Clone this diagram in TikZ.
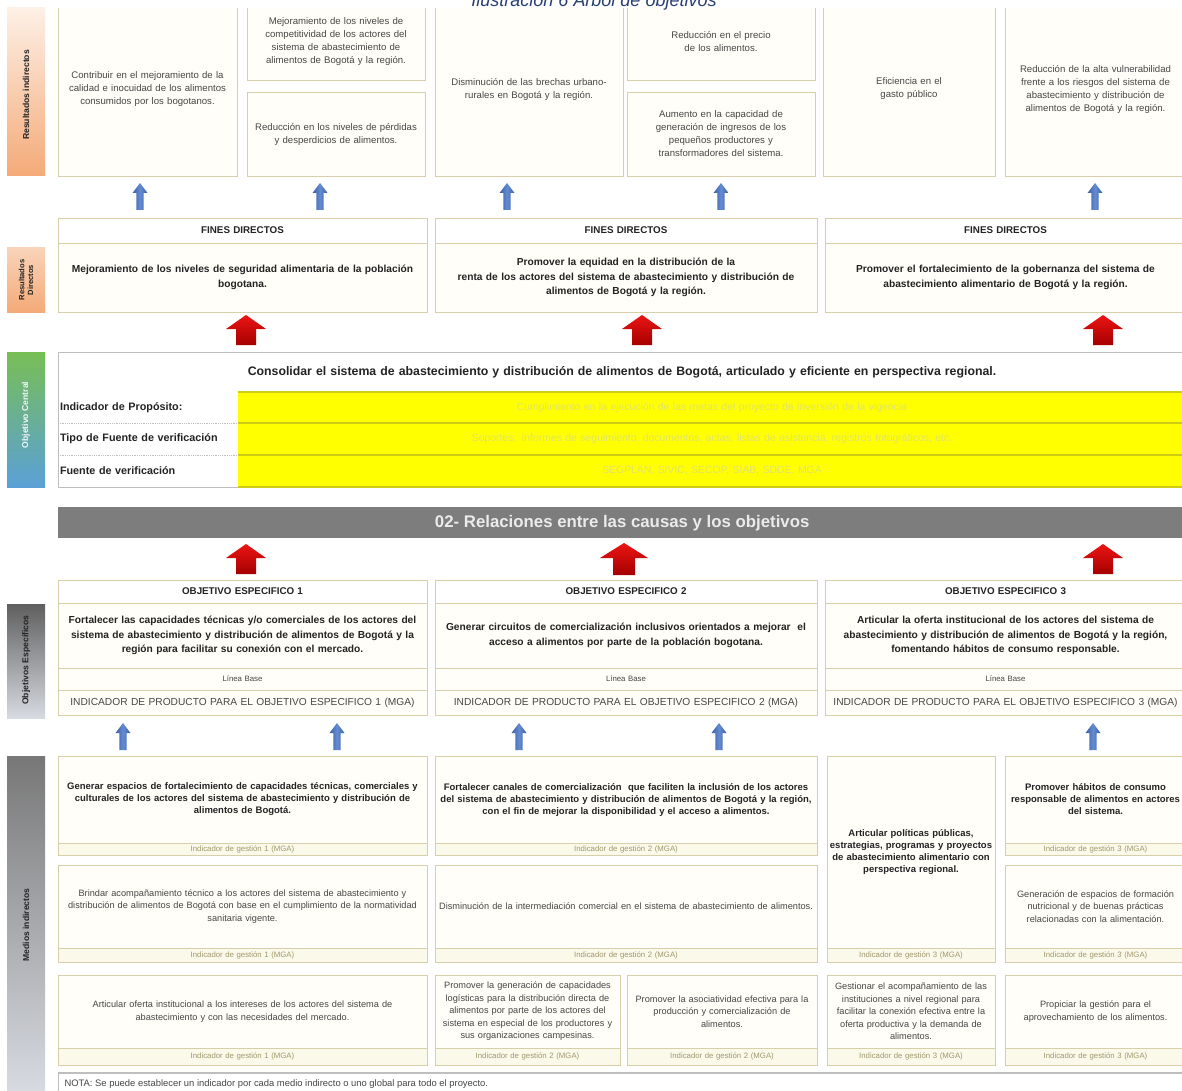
\documentclass[tikz,border=0pt]{standalone}
\usepackage{fontspec}
\setmainfont{Liberation Sans}
\definecolor{boxc}{RGB}{214,207,170}
\definecolor{boxf}{RGB}{255,254,248}
\definecolor{footf}{RGB}{251,249,234}
\definecolor{foott}{RGB}{160,152,110}
\definecolor{txt}{RGB}{70,70,70}
\definecolor{btxt}{RGB}{35,35,35}
\definecolor{arrblueD}{RGB}{60,95,165}
\definecolor{arrblueL}{RGB}{100,140,210}
\definecolor{arrredL}{RGB}{235,20,20}
\definecolor{arrredD}{RGB}{165,0,0}
\definecolor{bannerc}{RGB}{125,125,125}
\definecolor{titc}{RGB}{40,62,115}
\definecolor{yel}{RGB}{255,255,0}
\definecolor{yelline}{RGB}{205,205,20}
\definecolor{faint}{RGB}{226,226,105}
\definecolor{ocline}{RGB}{190,190,190}
\definecolor{orL}{RGB}{253,240,230}
\definecolor{orD}{RGB}{244,170,120}
\definecolor{grn}{RGB}{120,190,85}
\definecolor{blu}{RGB}{90,160,215}
\definecolor{gD}{RGB}{95,95,95}
\definecolor{gL}{RGB}{215,218,225}

\newcommand\mkcell[7]{%
  \pgfmathsetmacro\cellw{#4-#2}%
  \pgfmathsetmacro\cellh{#5-#3}%
  \pgfmathsetmacro\celltw{#4-#2-4}%
  \node[#6, minimum width=\cellw pt, minimum height=\cellh pt, text width=\celltw pt, anchor=north west, inner sep=0pt, outer sep=0pt] (#1) at (#2,#3) {#7};%
}

\tikzset{
  cellbox/.style={draw=boxc, fill=boxf, line width=0.8pt, align=center, text=txt, font=\fontsize{9.6}{13}\selectfont},
  medbox/.style={draw=boxc, fill=boxf, line width=0.8pt, align=center, text=txt, font=\fontsize{9.2}{12.5}\selectfont},
  boldmed/.style={draw=boxc, fill=boxf, line width=0.8pt, align=center, text=btxt, font=\bfseries\fontsize{9.5}{12}\selectfont},
  boldbody/.style={draw=boxc, fill=boxf, line width=0.8pt, align=center, text=btxt, font=\bfseries\fontsize{10.2}{14.5}\selectfont},
  headbox/.style={draw=boxc, fill=white, line width=0.8pt, align=center, text=btxt, font=\bfseries\fontsize{9.8}{11}\selectfont},
  plainbox/.style={draw=boxc, fill=boxf, line width=0.8pt, align=center, text=txt, font=\fontsize{7.8}{10}\selectfont},
  indbox/.style={draw=boxc, fill=boxf, line width=0.8pt, align=center, text=txt, font=\fontsize{10.2}{11}\selectfont},
  footbox/.style={draw=boxc, fill=footf, line width=0.8pt, align=center, text=foott, font=\fontsize{7.8}{9}\selectfont},
  lblcell/.style={draw=none, fill=white, align=left, text=btxt, font=\bfseries\fontsize{10.8}{12}\selectfont},
  yelcell/.style={draw=none, fill=yel, align=center, text=faint, font=\fontsize{10.4}{12}\selectfont},
  sidelbl/.style={rotate=90, align=center, font=\bfseries\fontsize{8.6}{9.5}\selectfont, text=btxt},
  bluearr/.pic={\shade[left color=arrblueD, right color=arrblueD, middle color=arrblueL] (0,-14) -- (7.5,-4) -- (3.6,-4) -- (3.6,13) -- (-3.6,13) -- (-3.6,-4) -- (-7.5,-4) -- cycle;},
  redarr/.pic={\shade[top color=arrredL, bottom color=arrredD] (0,-15) -- (20,-1) -- (10,-1) -- (10,15) -- (-10,15) -- (-10,-1) -- (-20,-1) -- cycle;},
  redarrw/.pic={\shade[top color=arrredL, bottom color=arrredD] (0,-16) -- (24,-1) -- (11,-1) -- (11,16) -- (-11,16) -- (-11,-1) -- (-24,-1) -- cycle;},
}

\begin{document}
\begin{tikzpicture}[x=1pt,y=-1pt]
\useasboundingbox (0,0) rectangle (1182,1091);
\fill[white] (0,0) rectangle (1182,1091);

% ---------- side bars ----------
\shade[top color=orL, bottom color=orD] (7,8) rectangle (45,176);
\node[sidelbl] (sRI) at (26,95) {Resultados indirectos};
\shade[top color=orL!60!orD, bottom color=orD] (7,247) rectangle (45,312);
\node[sidelbl, font=\bfseries\fontsize{7.6}{8.6}\selectfont] (sRD) at (26,280) {Resultados\\Directos};
\shade[top color=grn, bottom color=blu] (7,352) rectangle (45,487);
\node[sidelbl, text=white!92!blu] (sOC) at (26,415) {Objetivo Central};
\shade[top color=gD, bottom color=gL] (7,604) rectangle (45,718);
\node[sidelbl] (sOE) at (26,660) {Objetivos Específicos};
\shade[top color=gD!85!white, bottom color=gL] (7,756) rectangle (45,1091);
\node[sidelbl] (sMI) at (26,925) {Medios indirectos};

% ---------- resultados indirectos ----------
\mkcell{ri1}{58}{2}{237}{176}{cellbox}{Contribuir en el mejoramiento de la\\calidad e inocuidad de los alimentos\\consumidos por los bogotanos.}
\mkcell{ri2}{247}{4}{425}{80}{cellbox}{Mejoramiento de los niveles de\\competitividad de los actores del\\sistema de abastecimiento de\\alimentos de Bogotá y la región.}
\mkcell{ri3}{247}{92}{425}{176}{cellbox}{Reducción en los niveles de pérdidas\\y desperdicios de alimentos.}
\mkcell{ri4}{435}{2}{623}{176}{cellbox}{Disminución de las brechas urbano-\\rurales en Bogotá y la región.}
\mkcell{ri5}{627}{4}{815}{80}{cellbox}{Reducción en el precio\\de los alimentos.}
\mkcell{ri6}{627}{92}{815}{176}{cellbox}{Aumento en la capacidad de\\generación de ingresos de los\\pequeños productores y\\transformadores del sistema.}
\mkcell{ri7}{823}{2}{995}{176}{cellbox}{Eficiencia en el\\gasto público}
\mkcell{ri8}{1005}{2}{1186}{176}{cellbox}{Reducción de la alta vulnerabilidad\\frente a los riesgos del sistema de\\abastecimiento y distribución de\\alimentos de Bogotá y la región.}
\fill[white] (50,0) rectangle (1182,8);
\node[font=\itshape\fontsize{18}{20}\selectfont, text=titc, anchor=base] (title) at (594,7) {Ilustración 6 Árbol de objetivos};

% blue arrows row 1
\pic at (140,197) {bluearr};
\pic at (320,197) {bluearr};
\pic at (507,197) {bluearr};
\pic at (721,197) {bluearr};
\pic at (1095,197) {bluearr};

% ---------- fines directos ----------
\mkcell{fh1}{58}{218}{427}{243}{headbox}{FINES DIRECTOS}
\mkcell{fb1}{58}{243}{427}{312}{boldbody}{Mejoramiento de los niveles de seguridad alimentaria de la población\\bogotana.}
\mkcell{fh2}{435}{218}{817}{243}{headbox}{FINES DIRECTOS}
\mkcell{fb2}{435}{243}{817}{312}{boldbody}{Promover la equidad en la distribución de la\\renta de los actores del sistema de abastecimiento y distribución de\\alimentos de Bogotá y la región.}
\mkcell{fh3}{825}{218}{1186}{243}{headbox}{FINES DIRECTOS}
\mkcell{fb3}{825}{243}{1186}{312}{boldbody}{Promover el fortalecimiento de la gobernanza del sistema de\\abastecimiento alimentario de Bogotá y la región.}

\pic at (246,330) {redarr};
\pic at (642,330) {redarr};
\pic at (1103,330) {redarr};

% ---------- objetivo central ----------
\mkcell{ocT}{58}{352}{1186}{392}{draw=ocline, fill=white, line width=0.8pt, align=center, text=btxt, font=\bfseries\fontsize{12.3}{14}\selectfont}{Consolidar el sistema de abastecimiento y distribución de alimentos de Bogotá, articulado y eficiente en perspectiva regional.}
\mkcell{ocL1}{58}{392}{238}{423}{lblcell}{Indicador de Propósito:}
\mkcell{ocL2}{58}{423}{238}{455}{lblcell}{Tipo de Fuente de verificación}
\mkcell{ocL3}{58}{455}{238}{487}{lblcell}{Fuente de verificación}
\mkcell{ocY1}{238}{392}{1186}{423}{yelcell}{Cumplimiento en la ejecución de las metas del proyecto de inversión de la vigencia}
\mkcell{ocY2}{238}{423}{1186}{455}{yelcell}{Soportes: Informes de seguimiento, documentos, actas, listas de asistencia, registros fotográficos, etc.}
\mkcell{ocY3}{238}{455}{1186}{487}{yelcell}{SEGPLAN, SIVIC, SECOP, SIAB, SDDE, MGA}
\draw[yelline, line width=1.6pt] (ocY1.north west) -- (ocY1.north east);
\draw[yelline, line width=1.6pt] (ocY2.north west) -- (ocY2.north east);
\draw[yelline, line width=1.6pt] (ocY3.north west) -- (ocY3.north east);
\draw[yelline, line width=1.2pt] (ocY3.south west) -- (ocY3.south east);
\draw[ocline, densely dotted, line width=0.8pt] (ocL2.north west) -- (ocL2.north east);
\draw[ocline, densely dotted, line width=0.8pt] (ocL3.north west) -- (ocL3.north east);
\draw[ocline, line width=0.8pt] (ocL1.north west) -- (ocL3.south west) -- (ocL3.south east);

% ---------- banner ----------
\node[fill=bannerc, minimum width=1128pt, minimum height=31pt, anchor=north west, inner sep=0pt, text={rgb,255:red,235;green,235;blue,235}, font=\bfseries\fontsize{16.8}{18}\selectfont] (banner) at (58,507) {02- Relaciones entre las causas y los objetivos};

\pic at (246,559) {redarr};
\pic at (624,559) {redarrw};
\pic at (1103,559) {redarr};

% ---------- objetivos especificos ----------
\mkcell{oh1}{58}{580}{427}{603}{headbox}{OBJETIVO ESPECIFICO 1}
\mkcell{ob1}{58}{603}{427}{668}{boldbody}{Fortalecer las capacidades técnicas y/o comerciales de los actores del\\sistema de abastecimiento y distribución de alimentos de Bogotá y la\\región para facilitar su conexión con el mercado.}
\mkcell{ol1}{58}{668}{427}{690}{plainbox}{Línea Base}
\mkcell{oi1}{58}{690}{427}{715}{indbox}{INDICADOR DE PRODUCTO PARA EL OBJETIVO ESPECIFICO 1 (MGA)}
\mkcell{oh2}{435}{580}{817}{603}{headbox}{OBJETIVO ESPECIFICO 2}
\mkcell{ob2}{435}{603}{817}{668}{boldbody}{Generar circuitos de comercialización inclusivos orientados a mejorar\ \ el\\acceso a alimentos por parte de la población bogotana.}
\mkcell{ol2}{435}{668}{817}{690}{plainbox}{Línea Base}
\mkcell{oi2}{435}{690}{817}{715}{indbox}{INDICADOR DE PRODUCTO PARA EL OBJETIVO ESPECIFICO 2 (MGA)}
\mkcell{oh3}{825}{580}{1186}{603}{headbox}{OBJETIVO ESPECIFICO 3}
\mkcell{ob3}{825}{603}{1186}{668}{boldbody}{Articular la oferta institucional de los actores del sistema de\\abastecimiento y distribución de alimentos de Bogotá y la región,\\fomentando hábitos de consumo responsable.}
\mkcell{ol3}{825}{668}{1186}{690}{plainbox}{Línea Base}
\mkcell{oi3}{825}{690}{1186}{715}{indbox}{INDICADOR DE PRODUCTO PARA EL OBJETIVO ESPECIFICO 3 (MGA)}

\pic at (123,737) {bluearr};
\pic at (337,737) {bluearr};
\pic at (519,737) {bluearr};
\pic at (719,737) {bluearr};
\pic at (1093,737) {bluearr};

% ---------- medios indirectos ----------
% row 1
\mkcell{m11}{58}{756}{427}{843}{boldmed}{Generar espacios de fortalecimiento de capacidades técnicas, comerciales y\\culturales de los actores del sistema de abastecimiento y distribución de\\alimentos de Bogotá.}
\mkcell{m11f}{58}{843}{427}{855}{footbox}{Indicador de gestión 1 (MGA)}
\mkcell{m12}{435}{756}{817}{843}{boldmed}{Fortalecer canales de comercialización\ \ que faciliten la inclusión de los actores\\del sistema de abastecimiento y distribución de alimentos de Bogotá y la región,\\con el fin de mejorar la disponibilidad y el acceso a alimentos.}
\mkcell{m12f}{435}{843}{817}{855}{footbox}{Indicador de gestión 2 (MGA)}
\mkcell{m13}{827}{756}{995}{948}{boldmed}{Articular políticas públicas,\\estrategias, programas y proyectos\\de abastecimiento alimentario con\\perspectiva regional.}
\mkcell{m13f}{827}{948}{995}{962}{footbox}{Indicador de gestión 3 (MGA)}
\mkcell{m14}{1005}{756}{1186}{843}{boldmed}{Promover hábitos de consumo\\responsable de alimentos en actores\\del sistema.}
\mkcell{m14f}{1005}{843}{1186}{855}{footbox}{Indicador de gestión 3 (MGA)}
% row 2
\mkcell{m21}{58}{865}{427}{948}{medbox}{Brindar acompañamiento técnico a los actores del sistema de abastecimiento y\\distribución de alimentos de Bogotá con base en el cumplimiento de la normatividad\\sanitaria vigente.}
\mkcell{m21f}{58}{948}{427}{962}{footbox}{Indicador de gestión 1 (MGA)}
\mkcell{m22}{435}{865}{817}{948}{medbox}{Disminución de la intermediación comercial en el sistema de abastecimiento de alimentos.}
\mkcell{m22f}{435}{948}{817}{962}{footbox}{Indicador de gestión 2 (MGA)}
\mkcell{m24}{1005}{865}{1186}{948}{medbox}{Generación de espacios de formación\\nutricional y de buenas prácticas\\relacionadas con la alimentación.}
\mkcell{m24f}{1005}{948}{1186}{962}{footbox}{Indicador de gestión 3 (MGA)}
% row 3
\mkcell{m31}{58}{975}{427}{1048}{medbox}{Articular oferta institucional a los intereses de los actores del sistema de\\abastecimiento y con las necesidades del mercado.}
\mkcell{m31f}{58}{1048}{427}{1065}{footbox}{Indicador de gestión 1 (MGA)}
\mkcell{m32}{435}{975}{620}{1048}{medbox}{Promover la generación de capacidades\\logísticas para la distribución directa de\\alimentos por parte de los actores del\\sistema en especial de los productores y\\sus organizaciones campesinas.}
\mkcell{m32f}{435}{1048}{620}{1065}{footbox}{Indicador de gestión 2 (MGA)}
\mkcell{m33}{627}{975}{817}{1048}{medbox}{Promover la asociatividad efectiva para la\\producción y comercialización de\\alimentos.}
\mkcell{m33f}{627}{1048}{817}{1065}{footbox}{Indicador de gestión 2 (MGA)}
\mkcell{m34}{827}{975}{995}{1048}{medbox}{Gestionar el acompañamiento de las\\instituciones a nivel regional para\\facilitar la conexión efectiva entre la\\oferta productiva y la demanda de\\alimentos.}
\mkcell{m34f}{827}{1048}{995}{1065}{footbox}{Indicador de gestión 3 (MGA)}
\mkcell{m35}{1005}{975}{1186}{1048}{medbox}{Propiciar la gestión para el\\aprovechamiento de los alimentos.}
\mkcell{m35f}{1005}{1048}{1186}{1065}{footbox}{Indicador de gestión 3 (MGA)}

% ---------- nota ----------
\draw[ocline, line width=2pt] (58,1073) -- (1182,1073);
\draw[ocline, line width=0.8pt] (58,1073) -- (58,1095);
\node[anchor=west, font=\fontsize{9.4}{11}\selectfont, text=txt] (nota) at (61,1084) {NOTA: Se puede establecer un indicador por cada medio indirecto o uno global para todo el proyecto.};
\end{tikzpicture}
\end{document}
